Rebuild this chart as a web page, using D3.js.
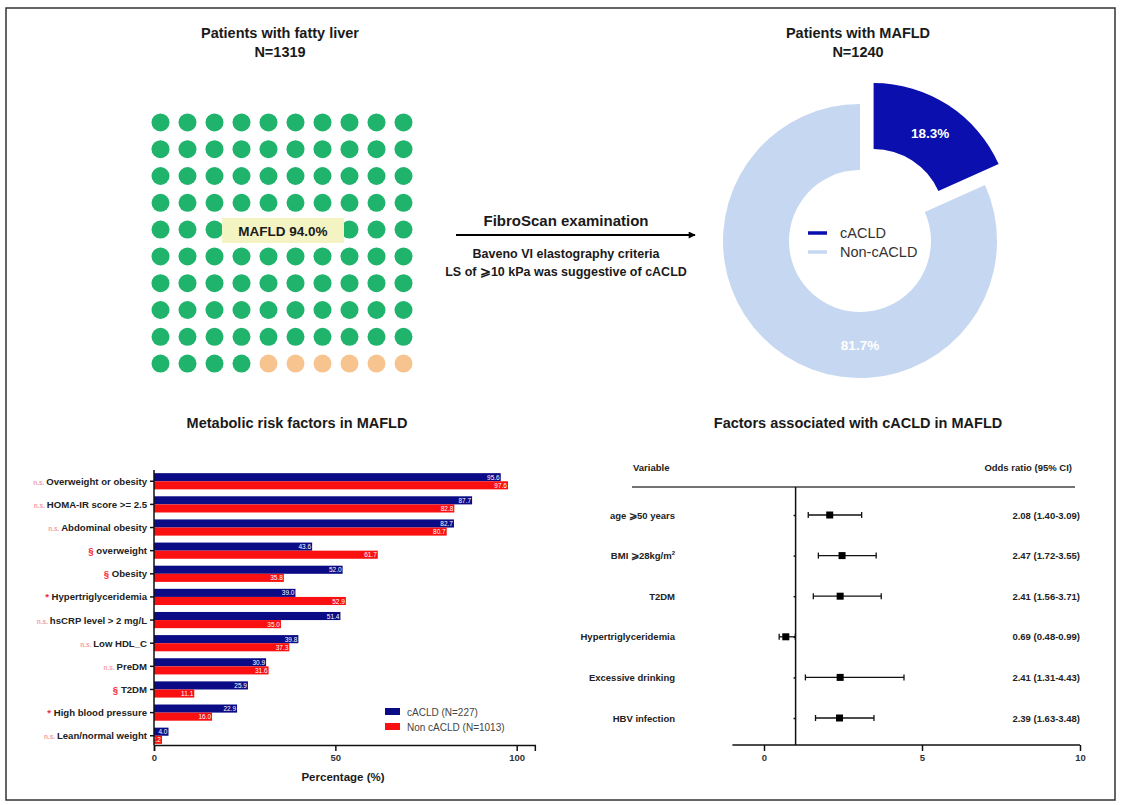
<!DOCTYPE html>
<html>
<head>
<meta charset="utf-8">
<script src="https://cdn.jsdelivr.net/npm/d3@7"></script>
<style>
  html, body { margin: 0; padding: 0; background: #fff; }
  svg { display: block; font-family: "Liberation Sans", Arial, sans-serif; }
</style>
</head>
<body>
<svg id="fig" width="1121" height="805"></svg>
<script>
// ---- Panel A: fatty-liver waffle ----
const waffleGroups = ["MAFLD", "Non-MAFLD"];
const waffleCounts = [94, 6];            // dots out of 100
const mafldShareLabel = "MAFLD 94.0%";

// ---- Panel B: cACLD share among MAFLD ----
const donutCategories = ["cACLD", "Non-cACLD"];
const donutShares = [18.3, 81.7];

// ---- Panel C: metabolic risk factors ----
const riskFactors = ["Overweight or obesity", "HOMA-IR score >= 2.5", "Abdominal obesity", "overweight",
  "Obesity", "Hypertriglyceridemia", "hsCRP level > 2 mg/L", "Low HDL_C", "PreDM", "T2DM",
  "High blood pressure", "Lean/normal weight"];
const riskMarks = ["n.s.", "n.s.", "n.s.", "§", "§", "*", "n.s.", "n.s.", "n.s.", "§", "*", "n.s."];
const cacldPct = [95.6, 87.7, 82.7, 43.6, 52.0, 39.0, 51.4, 39.8, 30.9, 25.9, 22.9, 4.0];
const nonCacldPct = [97.6, 82.8, 80.7, 61.7, 35.8, 52.9, 35.0, 37.3, 31.6, 11.1, 16.0, 2.2];
const barSeries = ["cACLD (N=227)", "Non cACLD (N=1013)"];
const pctTicks = [0, 50, 100];

// ---- Panel D: odds ratios ----
const orVariables = ["age \u2A7E50 years", "BMI \u2A7E28kg/m", "T2DM", "Hypertriglyceridemia", "Excessive drinking", "HBV infection"];
const orValues = [2.08, 2.47, 2.41, 0.69, 2.41, 2.39];
const orLower = [1.40, 1.72, 1.56, 0.48, 1.31, 1.63];
const orUpper = [3.09, 3.55, 3.71, 0.99, 4.43, 3.48];
const orTicks = [0, 5, 10];

const svg = d3.select("#fig");
const ink = "#1a1a1a";

// outer frame
svg.append("rect").attr("x", 6).attr("y", 8).attr("width", 1109).attr("height", 792)
  .attr("fill", "none").attr("stroke", "#333").attr("stroke-width", 1.5);

function title(x, y, lines, size) {
  const t = svg.append("text").attr("x", x).attr("y", y).attr("text-anchor", "middle")
    .attr("font-weight", "bold").attr("font-size", size).attr("fill", ink);
  lines.forEach((s, i) => t.append("tspan").attr("x", x).attr("dy", i ? size * 1.3 : 0).text(s));
}

// ===== Panel A =====
title(280, 38, ["Patients with fatty liver", "N=1319"], 14.5);
{
  const dots = [];
  waffleGroups.forEach((g, gi) => d3.range(waffleCounts[gi]).forEach(() => dots.push(g)));
  const gx = d3.scaleBand().domain(d3.range(10)).range([147, 417]);
  const gy = d3.scaleBand().domain(d3.range(10)).range([109, 377]);
  const fill = d3.scaleOrdinal().domain(waffleGroups).range(["#1fb36b", "#f7c38f"]);
  svg.append("g").selectAll("circle").data(dots).join("circle")
    .attr("cx", (d, i) => gx(i % 10) + gx.bandwidth() / 2)
    .attr("cy", (d, i) => gy(Math.floor(i / 10)) + gy.bandwidth() / 2)
    .attr("r", 9).attr("fill", d => fill(d));
  svg.append("rect").attr("x", 222).attr("y", 218).attr("width", 122).attr("height", 25).attr("fill", "#f3f4c2");
  svg.append("text").attr("x", 283).attr("y", 236).attr("text-anchor", "middle")
    .attr("font-weight", "bold").attr("font-size", 13.5).attr("fill", ink).text(mafldShareLabel);
}

// arrow
svg.append("defs").append("marker").attr("id", "arrowhead").attr("viewBox", "0 0 10 10")
  .attr("refX", 9).attr("refY", 5).attr("markerWidth", 9).attr("markerHeight", 7).attr("markerUnits", "userSpaceOnUse")
  .attr("orient", "auto").append("path").attr("d", "M0,0L10,5L0,10Z").attr("fill", "#000");
svg.append("line").attr("x1", 456).attr("x2", 695).attr("y1", 235).attr("y2", 235)
  .attr("stroke", "#000").attr("stroke-width", 2).attr("marker-end", "url(#arrowhead)");
svg.append("text").attr("x", 566).attr("y", 226).attr("text-anchor", "middle").attr("font-weight", "bold")
  .attr("font-size", 15).attr("fill", ink).text("FibroScan examination");
svg.append("text").attr("x", 566).attr("y", 258).attr("text-anchor", "middle").attr("font-weight", "bold")
  .attr("font-size", 12.5).attr("fill", ink).text("Baveno VI elastography criteria");
svg.append("text").attr("x", 566).attr("y", 276).attr("text-anchor", "middle").attr("font-weight", "bold")
  .attr("font-size", 12.5).attr("fill", ink).text("LS of \u2A7E10 kPa was suggestive of cACLD");

// ===== Panel B =====
title(858, 38, ["Patients with MAFLD", "N=1240"], 14.5);
{
  const cx = 860, cy = 241, rOut = 137, rIn = 71, explode = 25;
  const color = d3.scaleOrdinal().domain(donutCategories).range(["#0a0fae", "#c6d7f1"]);
  const pie = d3.pie().sort(null).value(d => d.v);
  const arcs = pie(donutCategories.map((c, i) => ({ c, v: donutShares[i] })));
  const arc = d3.arc().innerRadius(rIn).outerRadius(rOut);
  const g = svg.append("g").attr("transform", `translate(${cx},${cy})`);
  arcs.forEach((a, i) => {
    const mid = (a.startAngle + a.endAngle) / 2;
    const off = i === 0 ? explode : 0;
    const dx = Math.sin(mid) * off, dy = -Math.cos(mid) * off;
    const sg = g.append("g").attr("transform", `translate(${dx},${dy})`);
    sg.append("path").attr("d", arc(a)).attr("fill", color(a.data.c));
    // cACLD label sits at its slice centroid; the large slice is labelled at the bottom of the ring
    const labelArc = i === 0 ? a : { startAngle: Math.PI, endAngle: Math.PI };
    const [lx, ly] = arc.centroid(labelArc);
    sg.append("text").attr("x", lx).attr("y", ly + 5).attr("text-anchor", "middle")
      .attr("font-weight", "bold").attr("font-size", 13.5).attr("fill", "#fff")
      .text(d3.format(".1f")(a.data.v) + "%");
  });
  // legend in the hole
  donutCategories.forEach((c, i) => {
    const y = 233 + i * 19;
    svg.append("line").attr("x1", 808).attr("x2", 827).attr("y1", y).attr("y2", y)
      .attr("stroke", color(c)).attr("stroke-width", 3.5);
    svg.append("text").attr("x", 840).attr("y", y + 5).attr("font-size", 14.5).attr("fill", "#333").text(c);
  });
}

// ===== Panel C =====
title(297, 428, ["Metabolic risk factors in MAFLD"], 14.5);
{
  const x = d3.scaleLinear().domain([0, 105]).range([154, 154 + 3.627 * 105]);
  const y = d3.scaleBand().domain(riskFactors).range([472, 745]).paddingInner(0.3).paddingOuter(0.05);
  const barColors = ["#0b0b85", "#fa1010"];
  const g = svg.append("g");
  const series = [cacldPct, nonCacldPct];
  const h = y.bandwidth() / 2;
  series.forEach((vals, si) => {
    g.append("g").selectAll("rect").data(riskFactors).join("rect")
      .attr("x", x(0)).attr("y", d => y(d) + si * h)
      .attr("width", (d, i) => x(vals[i]) - x(0)).attr("height", h)
      .attr("fill", barColors[si]);
    g.append("g").selectAll("text").data(riskFactors).join("text")
      .attr("x", (d, i) => x(vals[i]) - 1).attr("y", d => y(d) + si * h + h - 1.5)
      .attr("text-anchor", "end").attr("font-size", 6.5).attr("fill", "#fff")
      .text((d, i) => d3.format(".1f")(vals[i]));
  });
  // x axis
  const ax = g.append("g").attr("transform", "translate(0,745)");
  ax.call(d3.axisBottom(x).tickValues(d3.range(0, 106, 5)).tickSize(3).tickFormat(""));
  ax.call(d3.axisBottom(x).tickValues(pctTicks).tickSize(6).tickFormat(d3.format("d")));
  ax.selectAll("path, line").attr("stroke", "#111").attr("stroke-width", 1.5);
  ax.selectAll("text").attr("font-size", 9.5).attr("font-weight", "bold").attr("fill", "#333")
    .attr("font-family", "Liberation Sans, Arial, sans-serif");
  g.append("text").attr("x", 343).attr("y", 781).attr("text-anchor", "middle").attr("font-weight", "bold")
    .attr("font-size", 11.5).attr("fill", ink).text("Percentage (%)");
  // y axis
  const ay = g.append("g").attr("transform", "translate(154,0)");
  ay.call(d3.axisLeft(y).tickSize(4).tickFormat(""));
  ay.select(".domain").attr("d", "M0,470V745");
  ay.selectAll("path, line").attr("stroke", "#111").attr("stroke-width", 1.5);
  riskFactors.forEach((f, i) => {
    const t = g.append("text").attr("x", 147).attr("y", y(f) + y.bandwidth() / 2 + 3.5)
      .attr("text-anchor", "end").attr("font-size", 9.6).attr("font-weight", "bold").attr("fill", "#222");
    const m = riskMarks[i];
    t.append("tspan").attr("fill", m === "n.s." ? "#f2a0a8" : "#f02a3a")
      .attr("font-size", m === "n.s." ? 6.5 : 9.6).text(m + " ");
    t.append("tspan").text(f);
  });
  // legend
  barSeries.forEach((s, i) => {
    const ly = 712 + i * 15;
    g.append("rect").attr("x", 385).attr("y", ly - 4).attr("width", 15).attr("height", 7).attr("fill", barColors[i]);
    g.append("text").attr("x", 407).attr("y", ly + 3.5).attr("font-size", 10).attr("fill", "#444").text(s);
  });
}

// ===== Panel D =====
title(858, 428, ["Factors associated with cACLD in MAFLD"], 14.5);
{
  const x = d3.scaleLinear().domain([-1, 10]).range([732.4, 1080]);
  const y = d3.scalePoint().domain(orVariables).range([515, 718]);
  const g = svg.append("g");
  g.append("text").attr("x", 633).attr("y", 471).attr("font-weight", "bold").attr("font-size", 9.5).attr("fill", "#222").text("Variable");
  g.append("text").attr("x", 1072).attr("y", 471).attr("text-anchor", "end").attr("font-weight", "bold").attr("font-size", 9.5).attr("fill", "#222").text("Odds ratio (95% CI)");
  g.append("line").attr("x1", 632).attr("x2", 1075).attr("y1", 487).attr("y2", 487).attr("stroke", "#444").attr("stroke-width", 1.3);
  // reference line at OR = 1
  const ay = g.append("g").attr("transform", `translate(${x(1)},0)`);
  ay.call(d3.axisLeft(y).tickSize(2).tickFormat(""));
  ay.select(".domain").attr("d", "M0,487V745");
  ay.selectAll("path, line").attr("stroke", "#111").attr("stroke-width", 1.5);
  // x axis
  const ax = g.append("g").attr("transform", "translate(0,745)");
  ax.call(d3.axisBottom(x).tickValues(d3.range(0, 11)).tickSize(3).tickFormat(""));
  ax.call(d3.axisBottom(x).tickValues(orTicks).tickSize(6).tickFormat(d3.format("d")));
  ax.select(".domain").attr("d", `M${x(-1)},0H${x(10)}`);
  ax.selectAll("path, line").attr("stroke", "#111").attr("stroke-width", 1.5);
  ax.selectAll("text").attr("font-size", 9.5).attr("font-weight", "bold").attr("fill", "#333")
    .attr("font-family", "Liberation Sans, Arial, sans-serif");
  orVariables.forEach((v, i) => {
    const yy = y(v);
    const t = g.append("text").attr("x", 675).attr("y", yy + 3.5).attr("text-anchor", "end")
      .attr("font-weight", "bold").attr("font-size", 9.5).attr("fill", "#222").text(v);
    if (i === 1) t.append("tspan").attr("dy", -4).attr("font-size", 6).text("2");
    g.append("line").attr("x1", x(orLower[i])).attr("x2", x(orUpper[i])).attr("y1", yy).attr("y2", yy).attr("stroke", "#111").attr("stroke-width", 1.3);
    [orLower[i], orUpper[i]].forEach(e => g.append("line").attr("x1", x(e)).attr("x2", x(e)).attr("y1", yy - 3).attr("y2", yy + 3).attr("stroke", "#111").attr("stroke-width", 1.3));
    g.append("rect").attr("x", x(orValues[i]) - 3.5).attr("y", yy - 3.5).attr("width", 7).attr("height", 7).attr("fill", "#000");
    g.append("text").attr("x", 1080).attr("y", yy + 3.5).attr("text-anchor", "end").attr("font-weight", "bold")
      .attr("font-size", 9.5).attr("fill", "#222")
      .text(`${d3.format(".2f")(orValues[i])} (${d3.format(".2f")(orLower[i])}-${d3.format(".2f")(orUpper[i])})`);
  });
}
</script>
</body>
</html>
